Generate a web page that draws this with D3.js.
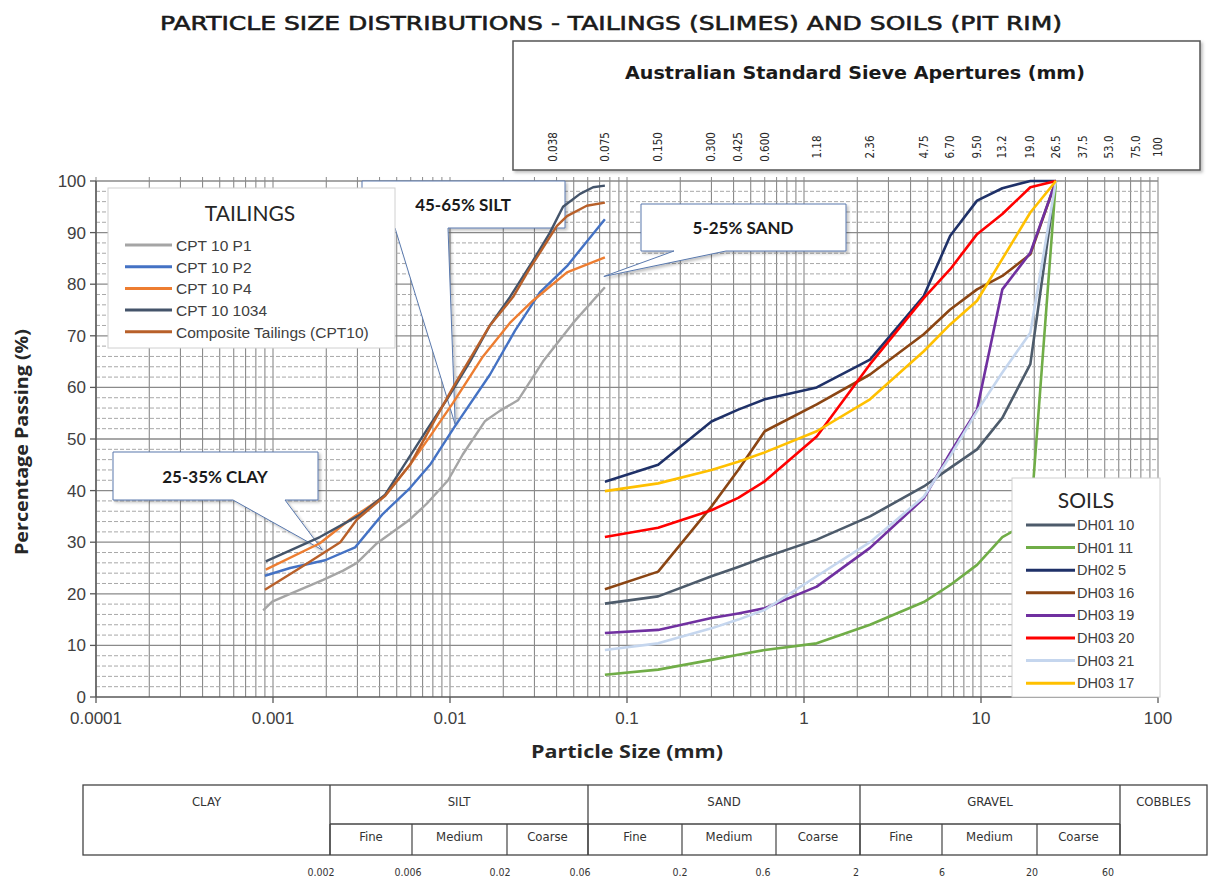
<!DOCTYPE html>
<html><head><meta charset="utf-8">
<script src="https://cdn.jsdelivr.net/npm/d3@7"></script>
<style>body{margin:0;background:#fff;} svg{display:block;}</style>
</head><body>
<svg id="chart" width="1209" height="881"></svg>
<script>
// ---------------- DATA ----------------
const tailingsNames = ["CPT 10 P1", "CPT 10 P2", "CPT 10 P4", "CPT 10 1034", "Composite Tailings (CPT10)"];
const tailingsColors = ["#a5a5a5", "#4472c4", "#ed7d31", "#44546a", "#b8602a"];

const p1Size = [0.00088, 0.00099, 0.00125, 0.00192, 0.00249, 0.00298, 0.00387, 0.00594, 0.00741, 0.00975, 0.0118, 0.0158, 0.0192, 0.0242, 0.0335, 0.0496, 0.075];
const p1Pass = [16.8, 18.5, 20, 22.7, 24.5, 26, 29.8, 34.4, 37.5, 42, 47, 53.5, 55.5, 57.5, 65, 72.5, 79.4];

const p2Size = [0.0009, 0.00125, 0.00197, 0.00291, 0.00418, 0.00594, 0.00771, 0.01067, 0.01683, 0.0233, 0.0322, 0.0458, 0.075];
const p2Pass = [23.5, 25, 26.5, 29, 35.5, 40.5, 45, 52.5, 62.5, 71, 78.4, 83.5, 92.6];

const p4Size = [0.00091, 0.00184, 0.00272, 0.0043, 0.00594, 0.00771, 0.0104, 0.01536, 0.0218, 0.0294, 0.0458, 0.075];
const p4Pass = [24.7, 29.8, 34.4, 39, 45, 50.5, 57, 66, 72.5, 76.8, 82.3, 85.2];

const c1034Size = [0.00091, 0.00184, 0.0031, 0.0043, 0.00502, 0.00741, 0.00962, 0.01297, 0.0168, 0.0218, 0.0294, 0.0367, 0.0435, 0.0543, 0.0643, 0.075];
const c1034Pass = [26.3, 31, 35.3, 39.2, 42.8, 51.8, 57.7, 65, 72, 77.5, 84.5, 90, 95, 97.5, 98.8, 99.1];

const compSize = [0.0009, 0.00142, 0.0024, 0.00298, 0.0043, 0.00594, 0.00771, 0.0104, 0.0168, 0.0227, 0.0282, 0.0402, 0.0458, 0.0592, 0.075];
const compPass = [20.8, 25, 30, 34.4, 39, 45, 52, 60, 72, 77.5, 83, 91.3, 93.2, 95.2, 95.8];

const soilNames = ["DH01 10", "DH01 11", "DH02 5", "DH03 16", "DH03 19", "DH03 20", "DH03 21", "DH03 17"];
const soilColors = ["#4d5b6b", "#70ad47", "#1f3168", "#8b4513", "#7030a0", "#ff0000", "#c5d6ee", "#ffc000"];
const sieveSizes = [0.075, 0.15, 0.3, 0.425, 0.6, 1.18, 2.36, 4.75, 6.7, 9.5, 13.2, 19, 26.5];
const dh0110 = [18.1, 19.5, 23.4, 25.2, 27.1, 30.5, 35, 40.8, 44.4, 48, 54.1, 64.5, 100];
const dh0111 = [4.3, 5.3, 7.2, 8.2, 9.1, 10.4, 14, 18.4, 21.7, 25.6, 31, 34, 100];
const dh025 = [41.7, 45, 53.4, 55.7, 57.7, 60, 65.4, 77.7, 89.4, 96.2, 98.6, 100, 100];
const dh0316 = [20.9, 24.3, 36.9, 44, 51.5, 56.7, 62.5, 70.3, 75.1, 79, 81.6, 85.8, 100];
const dh0319 = [12.4, 13, 15.3, 16.2, 17.2, 21.4, 28.9, 38.5, 47.3, 55.7, 79, 86.1, 100];
const dh0320 = [31, 32.8, 36.2, 38.6, 41.8, 50.5, 64.5, 77.3, 82.9, 89.7, 93.6, 98.8, 100];
const dh0321 = [9.1, 10.4, 13.3, 15, 16.9, 23.4, 30, 38.8, 46.7, 55.4, 62.9, 70.6, 100];
const dh0317 = [39.9, 41.4, 44, 45.6, 47.4, 51.5, 57.7, 67, 72.2, 76.8, 84.9, 93.9, 100];

const xTickValues = [0.0001, 0.001, 0.01, 0.1, 1, 10, 100];
const xTickLabels = ["0.0001", "0.001", "0.01", "0.1", "1", "10", "100"];
const yTickValues = [0, 10, 20, 30, 40, 50, 60, 70, 80, 90, 100];

const sieveApertures = [0.038, 0.075, 0.150, 0.300, 0.425, 0.600, 1.18, 2.36, 4.75, 6.70, 9.50, 13.2, 19.0, 26.5, 37.5, 53.0, 75.0, 100];
const sieveLabels = ["0.038", "0.075", "0.150", "0.300", "0.425", "0.600", "1.18", "2.36", "4.75", "6.70", "9.50", "13.2", "19.0", "26.5", "37.5", "53.0", "75.0", "100"];

const classGroups = ["CLAY", "SILT", "SAND", "GRAVEL", "COBBLES"];
const classSubs = ["Fine", "Medium", "Coarse", "Fine", "Medium", "Coarse", "Fine", "Medium", "Coarse"];
const classLimits = ["0.002", "0.006", "0.02", "0.06", "0.2", "0.6", "2", "6", "20", "60"];

// ---------------- LAYOUT ----------------
const svg = d3.select("#chart");
const W = 1209, H = 881;
const plot = {l: 96, r: 1158, t: 181, b: 697};
const x = d3.scaleLog().domain([1e-4, 100]).range([plot.l, plot.r]);
const y = d3.scaleLinear().domain([0, 100]).range([plot.b, plot.t]);

const defs = svg.append("defs");
const sh = defs.append("filter").attr("id", "shadow").attr("x", "-10%").attr("y", "-10%").attr("width", "130%").attr("height", "140%");
sh.append("feDropShadow").attr("dx", 2).attr("dy", 2).attr("stdDeviation", 1.5).attr("flood-color", "#000").attr("flood-opacity", 0.25);

svg.append("rect").attr("width", W).attr("height", H).attr("fill", "#fff");

// Title
svg.append("text").attr("x", 611).attr("y", 30).attr("text-anchor", "middle")
  .attr("font-family", "DejaVu Sans, sans-serif").attr("font-size", 19).attr("fill", "#1a1a1a")
  .attr("stroke", "#1a1a1a").attr("stroke-width", 0.55)
  .attr("textLength", 902).attr("lengthAdjust", "spacingAndGlyphs")
  .text("PARTICLE SIZE DISTRIBUTIONS - TAILINGS (SLIMES) AND SOILS (PIT RIM)");

// Sieve box
svg.append("rect").attr("x", 513).attr("y", 41).attr("width", 687).attr("height", 129)
  .attr("fill", "#fff").attr("stroke", "#555").attr("stroke-width", 1.5).attr("filter", "url(#shadow)");
svg.append("text").attr("x", 855).attr("y", 79).attr("text-anchor", "middle")
  .attr("font-family", "DejaVu Sans, sans-serif").attr("font-weight", "bold").attr("font-size", 17).attr("fill", "#1a1a1a")
  .attr("textLength", 460).attr("lengthAdjust", "spacingAndGlyphs")
  .text("Australian Standard Sieve Apertures (mm)");
svg.append("g").selectAll("text").data(sieveApertures).join("text")
  .attr("transform", (d) => `translate(${x(d) + 4},147) rotate(-90)`)
  .attr("text-anchor", "middle")
  .attr("font-family", "DejaVu Sans Condensed, DejaVu Sans, sans-serif").attr("font-size", 11.5).attr("fill", "#2a2a2a")
  .text((d, i) => sieveLabels[i]);

// Grid
const grid = svg.append("g");
const vLines = [];
for (let e = -4; e <= 1; e++) for (let k = 1; k <= 9; k++) vLines.push(k * Math.pow(10, e));
vLines.push(100);
grid.selectAll("line.v").data(vLines).join("line").attr("class", "v")
  .attr("x1", d => x(d)).attr("x2", d => x(d)).attr("y1", plot.t).attr("y2", plot.b)
  .attr("stroke", "#8a8a8a").attr("stroke-width", 1.1);
const hLines = d3.range(2, 101, 2);
grid.selectAll("line.h").data(hLines).join("line").attr("class", "h")
  .attr("x1", plot.l).attr("x2", plot.r).attr("y1", d => y(d)).attr("y2", d => y(d))
  .attr("stroke", d => d % 10 === 0 ? "#8a8a8a" : "#a8a8a8")
  .attr("stroke-width", d => d % 10 === 0 ? 1.3 : 1)
  .attr("stroke-dasharray", d => d % 10 === 0 ? null : "4,2");
grid.selectAll("line.tt").data(vLines).join("line").attr("class", "tt")
  .attr("x1", d => x(d)).attr("x2", d => x(d)).attr("y1", plot.t - 4).attr("y2", plot.t)
  .attr("stroke", "#8a8a8a");

// Axes
const axG = svg.append("g");
axG.append("line").attr("x1", plot.l).attr("x2", plot.l).attr("y1", plot.t).attr("y2", plot.b).attr("stroke", "#595959").attr("stroke-width", 1.5);
axG.append("line").attr("x1", plot.l).attr("x2", plot.r).attr("y1", plot.b).attr("y2", plot.b).attr("stroke", "#595959").attr("stroke-width", 1.5);
axG.selectAll("line.yt").data(yTickValues).join("line").attr("class", "yt")
  .attr("x1", plot.l - 6).attr("x2", plot.l).attr("y1", d => y(d)).attr("y2", d => y(d)).attr("stroke", "#595959").attr("stroke-width", 1.3);
axG.selectAll("line.xt").data(xTickValues).join("line").attr("class", "xt")
  .attr("x1", d => x(d)).attr("x2", d => x(d)).attr("y1", plot.b).attr("y2", plot.b + 6).attr("stroke", "#595959").attr("stroke-width", 1.3);
axG.selectAll("text.yl").data(yTickValues).join("text").attr("class", "yl")
  .attr("x", plot.l - 10).attr("y", d => y(d) + 6).attr("text-anchor", "end")
  .attr("font-family", "Liberation Sans, Arial, sans-serif").attr("font-size", 17).attr("fill", "#404040")
  .text(d => d);
axG.selectAll("text.xl").data(xTickValues).join("text").attr("class", "xl")
  .attr("x", d => x(d)).attr("y", plot.b + 27).attr("text-anchor", "middle")
  .attr("font-family", "Liberation Sans, Arial, sans-serif").attr("font-size", 17).attr("fill", "#404040")
  .text((d, i) => xTickLabels[i]);
svg.append("text").attr("x", 627).attr("y", 758).attr("text-anchor", "middle")
  .attr("font-family", "Open Sans, sans-serif").attr("font-weight", "bold").attr("font-size", 18).attr("fill", "#262626")
  .attr("textLength", 192).attr("lengthAdjust", "spacingAndGlyphs")
  .text("Particle Size (mm)");
svg.append("text").attr("transform", "translate(28,442) rotate(-90)").attr("text-anchor", "middle")
  .attr("font-family", "Open Sans, sans-serif").attr("font-weight", "bold").attr("font-size", 18).attr("fill", "#262626")
  .attr("textLength", 226).attr("lengthAdjust", "spacingAndGlyphs")
  .text("Percentage Passing (%)");

// Callouts (annotation shapes)
function callout(pts, tx, ty, label) {
  const g = svg.append("g");
  g.append("polygon").attr("points", pts.map(p => p.join(",")).join(" "))
    .attr("fill", "#fff").attr("stroke", "#5a79ad").attr("stroke-width", 1).attr("filter", "url(#shadow)");
  g.append("text").attr("x", tx).attr("y", ty).attr("text-anchor", "middle")
    .attr("font-family", "Lato, Open Sans, sans-serif").attr("font-weight", "bold").attr("font-size", 17).attr("fill", "#1a1a1a")
    .text(label);
}
const siltTip = [x(0.0107), y(52.8)];
callout([[362, 181], [565, 181], [565, 228], [448, 228], siltTip, [395, 228], [362, 228]], 463, 211, "45-65% SILT");
const sandTip = [x(0.074), y(81.5)];
callout([[641, 204], [846, 204], [846, 251], [726, 251], sandTip, [674, 251], [641, 251]], 743, 234, "5-25% SAND");
const clayTip = [x(0.0019), y(28.5)];
callout([[113, 452], [318, 452], [318, 500], [285, 500], clayTip, [233, 500], [113, 500]], 215, 483, "25-35% CLAY");

// Curves
const line = d3.line().x(d => x(d[0])).y(d => y(d[1]));
const tailings = [
  d3.zip(p1Size, p1Pass), d3.zip(p2Size, p2Pass), d3.zip(p4Size, p4Pass),
  d3.zip(c1034Size, c1034Pass), d3.zip(compSize, compPass)
];
const soils = [dh0110, dh0111, dh025, dh0316, dh0319, dh0320, dh0321, dh0317].map(v => d3.zip(sieveSizes, v));

svg.append("g").selectAll("path").data(soils).join("path")
  .attr("d", line).attr("fill", "none").attr("stroke", (d, i) => soilColors[i])
  .attr("stroke-width", 2.6).attr("stroke-linejoin", "round");
svg.append("g").selectAll("path").data(tailings).join("path")
  .attr("d", line).attr("fill", "none").attr("stroke", (d, i) => tailingsColors[i])
  .attr("stroke-width", 2.4).attr("stroke-linejoin", "round");

// Tailings legend
const tl = svg.append("g");
tl.append("rect").attr("x", 108).attr("y", 188).attr("width", 287).attr("height", 160)
  .attr("fill", "#fff").attr("stroke", "#d0d0d0").attr("stroke-width", 1);
tl.append("text").attr("x", 250).attr("y", 221).attr("text-anchor", "middle")
  .attr("font-family", "Lato, sans-serif").attr("font-size", 21).attr("fill", "#262626").text("TAILINGS");
tailingsNames.forEach((n, i) => {
  const yy = 245 + i * 21.7;
  tl.append("line").attr("x1", 125).attr("x2", 172).attr("y1", yy).attr("y2", yy)
    .attr("stroke", tailingsColors[i]).attr("stroke-width", 3);
  tl.append("text").attr("x", 176).attr("y", yy + 6)
    .attr("font-family", "Liberation Sans, Arial, sans-serif").attr("font-size", 15.5).attr("fill", "#404040").text(n);
});

// Soils legend
const sl = svg.append("g");
sl.append("rect").attr("x", 1012).attr("y", 478).attr("width", 148).attr("height", 219)
  .attr("fill", "#fff").attr("stroke", "#d0d0d0").attr("stroke-width", 1);
sl.append("text").attr("x", 1086).attr("y", 508).attr("text-anchor", "middle")
  .attr("font-family", "Lato, sans-serif").attr("font-size", 21).attr("fill", "#262626").text("SOILS");
soilNames.forEach((n, i) => {
  const yy = 525 + i * 22.6;
  sl.append("line").attr("x1", 1026).attr("x2", 1075).attr("y1", yy).attr("y2", yy)
    .attr("stroke", soilColors[i]).attr("stroke-width", 3);
  sl.append("text").attr("x", 1077).attr("y", yy + 5)
    .attr("font-family", "Liberation Sans, Arial, sans-serif").attr("font-size", 14.5).attr("fill", "#404040").text(n);
});

// Classification table
const tb = svg.append("g").attr("font-family", "DejaVu Sans Condensed, DejaVu Sans, sans-serif").attr("fill", "#333");
const T = {l: 83, r: 1207, t: 785, m: 824, b: 855};
const groupEdges = [83, 330, 588, 860, 1120, 1207];
const subEdges = [330, 412, 507, 588, 682, 776, 860, 942, 1037, 1120];
tb.append("rect").attr("x", T.l).attr("y", T.t).attr("width", T.r - T.l).attr("height", T.b - T.t)
  .attr("fill", "none").attr("stroke", "#444").attr("stroke-width", 1.3);
tb.append("line").attr("x1", 330).attr("x2", 1120).attr("y1", T.m).attr("y2", T.m).attr("stroke", "#444").attr("stroke-width", 1.3);
groupEdges.slice(1, -1).forEach(e => tb.append("line").attr("x1", e).attr("x2", e).attr("y1", T.t).attr("y2", T.b).attr("stroke", "#444").attr("stroke-width", 1.3));
subEdges.forEach(e => tb.append("line").attr("x1", e).attr("x2", e).attr("y1", T.m).attr("y2", T.b).attr("stroke", "#444").attr("stroke-width", 1.2));
classGroups.forEach((g, i) => {
  tb.append("text").attr("x", (groupEdges[i] + groupEdges[i + 1]) / 2).attr("y", 806)
    .attr("text-anchor", "middle").attr("font-size", 13).attr("fill", "#333").text(g);
});
classSubs.forEach((s, i) => {
  tb.append("text").attr("x", (subEdges[i] + subEdges[i + 1]) / 2).attr("y", 841)
    .attr("text-anchor", "middle").attr("font-size", 13).attr("fill", "#333").text(s);
});
const limitPos = [321, 408, 500, 580, 680, 763, 856, 942, 1032, 1108];
classLimits.forEach((s, i) => {
  tb.append("text").attr("x", limitPos[i]).attr("y", 876).attr("text-anchor", "middle")
    .attr("font-size", 10.5).attr("fill", "#333").text(s);
});
</script></body></html>
